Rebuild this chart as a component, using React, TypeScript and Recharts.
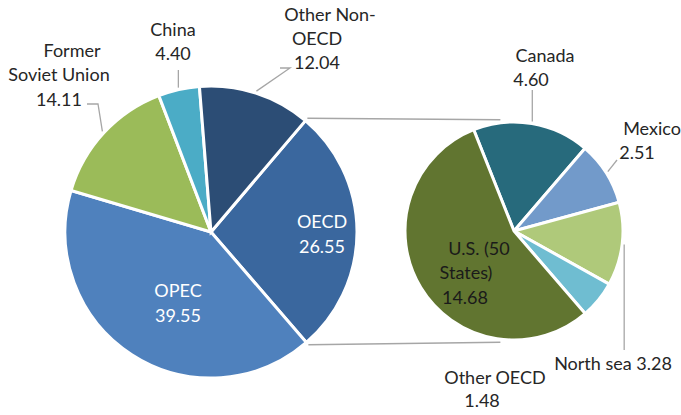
import { PieChart, Pie, Cell, Customized } from 'recharts'

const worldRegions = ['OECD', 'OPEC', 'Former Soviet Union', 'China', 'Other Non-OECD']
const worldValues = [26.55, 39.55, 14.11, 4.4, 12.04]
const worldColors = ['#3a679e', '#4f81bd', '#9bbb59', '#4bacc6', '#2c4d75']

const oecdRegions = ['Canada', 'Mexico', 'North sea', 'Other OECD', 'U.S. (50 States)']
const oecdValues = [4.6, 2.51, 3.28, 1.48, 14.68]
const oecdColors = ['#276a7c', '#729aca', '#afc97a', '#6fbdd1', '#617530']

const worldData = worldRegions.map((name, i) => ({ name, value: worldValues[i] }))
const oecdData = oecdRegions.map((name, i) => ({ name, value: oecdValues[i] }))

const LEFT = { cx: 211, cy: 232, r: 146, start: 49.7 }
const RIGHT = { cx: 514, cy: 231, r: 109, start: 111.7 }

const RAD = Math.PI / 180
const polar = (cx: number, cy: number, r: number, deg: number) => ({
  x: cx + r * Math.cos(-deg * RAD),
  y: cy + r * Math.sin(-deg * RAD),
})

// mid angle of each slice, going clockwise from the start angle
function midAngles(values: number[], start: number) {
  const total = values.reduce((a, b) => a + b, 0)
  let acc = start
  return values.map(v => {
    const span = (v / total) * 360
    const mid = acc - span / 2
    acc -= span
    return mid
  })
}

type Label = {
  lines: [string, number, number][]
  color?: string
  leader?: [number | null, number][]
}

const worldLabels: Record<string, Label> = {
  OECD: { lines: [['OECD', 322, 221], ['26.55', 322, 246]], color: '#fff' },
  OPEC: { lines: [['OPEC', 178, 290], ['39.55', 178, 315]], color: '#fff' },
  'Former Soviet Union': {
    lines: [['Former', 72, 50], ['Soviet Union', 59, 74], ['14.11', 59, 99]],
    leader: [[87, 104], [98, 104]],
  },
  China: { lines: [['China', 173, 29], ['4.40', 173, 53]], leader: [[null, 70]] },
  'Other Non-OECD': {
    lines: [['Other Non-', 330, 14], ['OECD', 317, 38], ['12.04', 317, 62]],
    leader: [[280, 68], [290, 68]],
  },
}

const oecdLabels: Record<string, Label> = {
  Canada: { lines: [['Canada', 545, 55], ['4.60', 531, 79]], leader: [[null, 90]] },
  Mexico: { lines: [['Mexico', 652, 128], ['2.51', 637, 152]], leader: [[617, 160]] },
  'North sea': { lines: [['North sea 3.28', 613, 363]], leader: [[null, 350]] },
  'Other OECD': { lines: [['Other OECD', 495, 377], ['1.48', 482, 400]] },
  'U.S. (50 States)': {
    lines: [['U.S. (50', 479, 248], ['States)', 466, 272], ['14.68', 465, 297]],
    color: '#1a1a1a',
  },
}

function makeLabel(
  names: string[],
  values: number[],
  pie: { cx: number; cy: number; r: number; start: number },
  layout: Record<string, Label>
) {
  const mids = midAngles(values, pie.start)
  return (p: any) => {
    const name = names[p.index]
    const l = layout[name]
    const edge = polar(pie.cx, pie.cy, pie.r + 2, mids[p.index])
    const pts = l.leader
      ? [...l.leader.map(([x, y]) => [x ?? edge.x, y]), [edge.x, edge.y]]
      : null
    return (
      <g key={name}>
        {pts && (
          <polyline
            points={pts.map(q => q.join(',')).join(' ')}
            fill="none"
            stroke="#a6a6a6"
            strokeWidth={1.3}
          />
        )}
        {l.lines.map(([t, x, y], i) => (
          <text
            key={i}
            x={x}
            y={y}
            textAnchor="middle"
            dominantBaseline="central"
            fill={l.color ?? '#262626'}
            fontSize={18}
            fontFamily="Lato"
          >
            {t}
          </text>
        ))}
      </g>
    )
  }
}

// lines joining the OECD slice to the breakdown pie
function Connectors() {
  const total = worldValues.reduce((a, b) => a + b, 0)
  const a1 = LEFT.start
  const a2 = LEFT.start - (worldValues[0] / total) * 360
  const top0 = polar(LEFT.cx, LEFT.cy, LEFT.r + 3, a1)
  const bot0 = polar(LEFT.cx, LEFT.cy, LEFT.r + 3, a2)
  const top1 = polar(RIGHT.cx, RIGHT.cy, RIGHT.r + 3, 97)
  const bot1 = polar(RIGHT.cx, RIGHT.cy, RIGHT.r + 3, -97)
  return (
    <g stroke="#a6a6a6" strokeWidth={1.5}>
      <line x1={top0.x} y1={top0.y} x2={top1.x} y2={top1.y} />
      <line x1={bot0.x} y1={bot0.y} x2={bot1.x} y2={bot1.y} />
    </g>
  )
}

export default function App() {
  return (
    <div style={{ position: 'absolute', left: 0, top: 0, background: '#fff' }}>
      <PieChart width={681} height={415} margin={{ top: 0, right: 0, bottom: 0, left: 0 }}>
        <Customized component={Connectors} />
        <Pie
          data={worldData}
          dataKey="value"
          nameKey="name"
          cx={LEFT.cx}
          cy={LEFT.cy}
          outerRadius={LEFT.r}
          startAngle={LEFT.start}
          endAngle={LEFT.start - 360}
          stroke="#fff"
          strokeWidth={3}
          labelLine={false}
          label={makeLabel(worldRegions, worldValues, LEFT, worldLabels)}
          isAnimationActive={false}
        >
          {worldColors.map((c, i) => (
            <Cell key={i} fill={c} />
          ))}
        </Pie>
        <Pie
          data={oecdData}
          dataKey="value"
          nameKey="name"
          cx={RIGHT.cx}
          cy={RIGHT.cy}
          outerRadius={RIGHT.r}
          startAngle={RIGHT.start}
          endAngle={RIGHT.start - 360}
          stroke="#fff"
          strokeWidth={3}
          labelLine={false}
          label={makeLabel(oecdRegions, oecdValues, RIGHT, oecdLabels)}
          isAnimationActive={false}
        >
          {oecdColors.map((c, i) => (
            <Cell key={i} fill={c} />
          ))}
        </Pie>
      </PieChart>
    </div>
  )
}
